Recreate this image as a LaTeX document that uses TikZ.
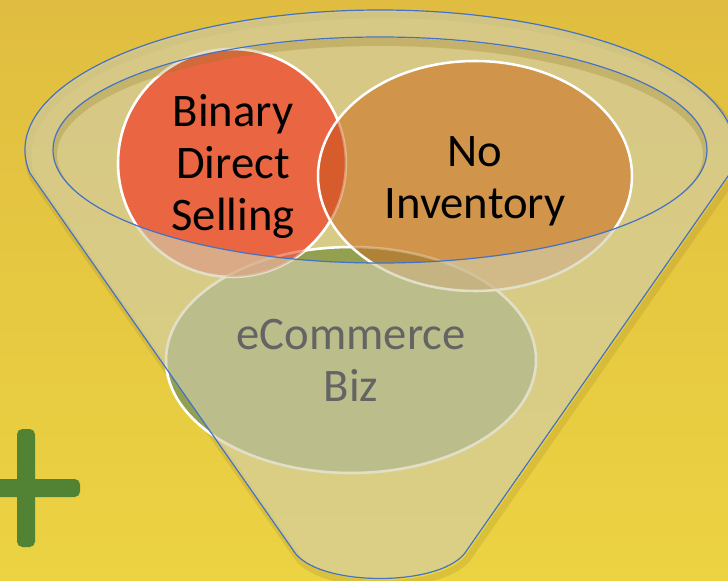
\documentclass[tikz,border=0pt]{standalone}
\usepackage{fontspec}
\setmainfont{Carlito}
\definecolor{bgtop}{RGB}{224,189,64}
\definecolor{bgmid}{RGB}{237,215,75}
\definecolor{bgbot}{RGB}{236,211,66}
\definecolor{funnelfill}{RGB}{210,206,170}
\definecolor{rimblue}{RGB}{68,114,196}
\definecolor{redfill}{RGB}{234,102,66}
\definecolor{orangefill}{RGB}{208,148,74}
\definecolor{greenfill}{RGB}{146,160,80}
\definecolor{redorange}{RGB}{214,92,44}
\definecolor{orangegreen}{RGB}{175,130,55}
\definecolor{redgreen}{RGB}{215,105,70}
\definecolor{plusgreen}{RGB}{82,130,52}
\definecolor{bizgrey}{RGB}{100,100,100}
\definecolor{shadowcol}{RGB}{140,115,30}

\begin{document}
\begin{tikzpicture}[x=0.75pt, y=-0.75pt,
  every node/.style = {align=center, font=\fontsize{35}{39}\selectfont},
  rim/.style = {fill=funnelfill, fill opacity=0.65},
  edge/.style = {draw=rimblue, line width=0.9pt},
  venn/.style = {draw=white, line width=1.9pt},
  funnelpath/.style = {insert path={([shift={(380,150)}]170.5:355 and 140)
      arc[start angle=170.5, end angle=369.5, x radius=355, y radius=140]
      -- (467,550) .. controls (445,588) and (315,588) .. (293,550) -- cycle}},
  innerpath/.style = {insert path={(380,150) ellipse[x radius=327, y radius=113]}},
  bdspath/.style = {insert path={(232,163) circle[radius=114]}},
  invpath/.style = {insert path={(475,176) ellipse[x radius=157, y radius=115]}},
  ecompath/.style = {insert path={(351,360) ellipse[x radius=185, y radius=113]}}]
  \useasboundingbox (0,0) rectangle (728,581);
  \clip (0,0) rectangle (728,581);
  \shade[top color=bgtop, middle color=bgmid, bottom color=bgbot] (0,0) rectangle (728,581);

  % shadow round the funnel
  \begin{scope}[shift={(3,5)}]
    \draw[shadowcol, line width=5pt, opacity=0.18, funnelpath];
  \end{scope}
  \fill[rim, innerpath];

  % three sets
  \fill[greenfill, ecompath];
  \draw[venn, ecompath];
  \fill[redfill, bdspath];
  \draw[venn, bdspath];
  \fill[orangefill, invpath];
  \begin{scope}
    \clip[bdspath];
    \fill[redorange, invpath];
  \end{scope}
  \begin{scope}
    \clip[ecompath];
    \fill[orangegreen, invpath];
  \end{scope}
  \begin{scope}
    \clip[ecompath];
    \fill[redgreen, bdspath];
  \end{scope}
  \draw[venn, invpath];
  \draw[venn, draw opacity=0.35, bdspath];
  \draw[venn, draw opacity=0.3, ecompath];

  % shadow under the inner rim
  \begin{scope}
    \clip[innerpath];
    \begin{scope}[shift={(0,5)}]
      \draw[shadowcol, line width=6pt, opacity=0.25, innerpath];
    \end{scope}
  \end{scope}

  % funnel front
  \fill[rim, even odd rule, funnelpath, innerpath];
  \draw[edge, funnelpath];
  \draw[edge, innerpath];

  \node (bds) at (233,166) {Binary\\Direct\\Selling};
  \node (noinv) at (475,181) {No\\Inventory};
  \node[text=bizgrey] (ecom) at (351,360) {eCommerce\\Biz};

  % plus sign
  \fill[plusgreen, rounded corners=4] (17,429) rectangle (35,547);
  \fill[plusgreen, rounded corners=4] (-10,479) rectangle (80,497);
\end{tikzpicture}
\end{document}
